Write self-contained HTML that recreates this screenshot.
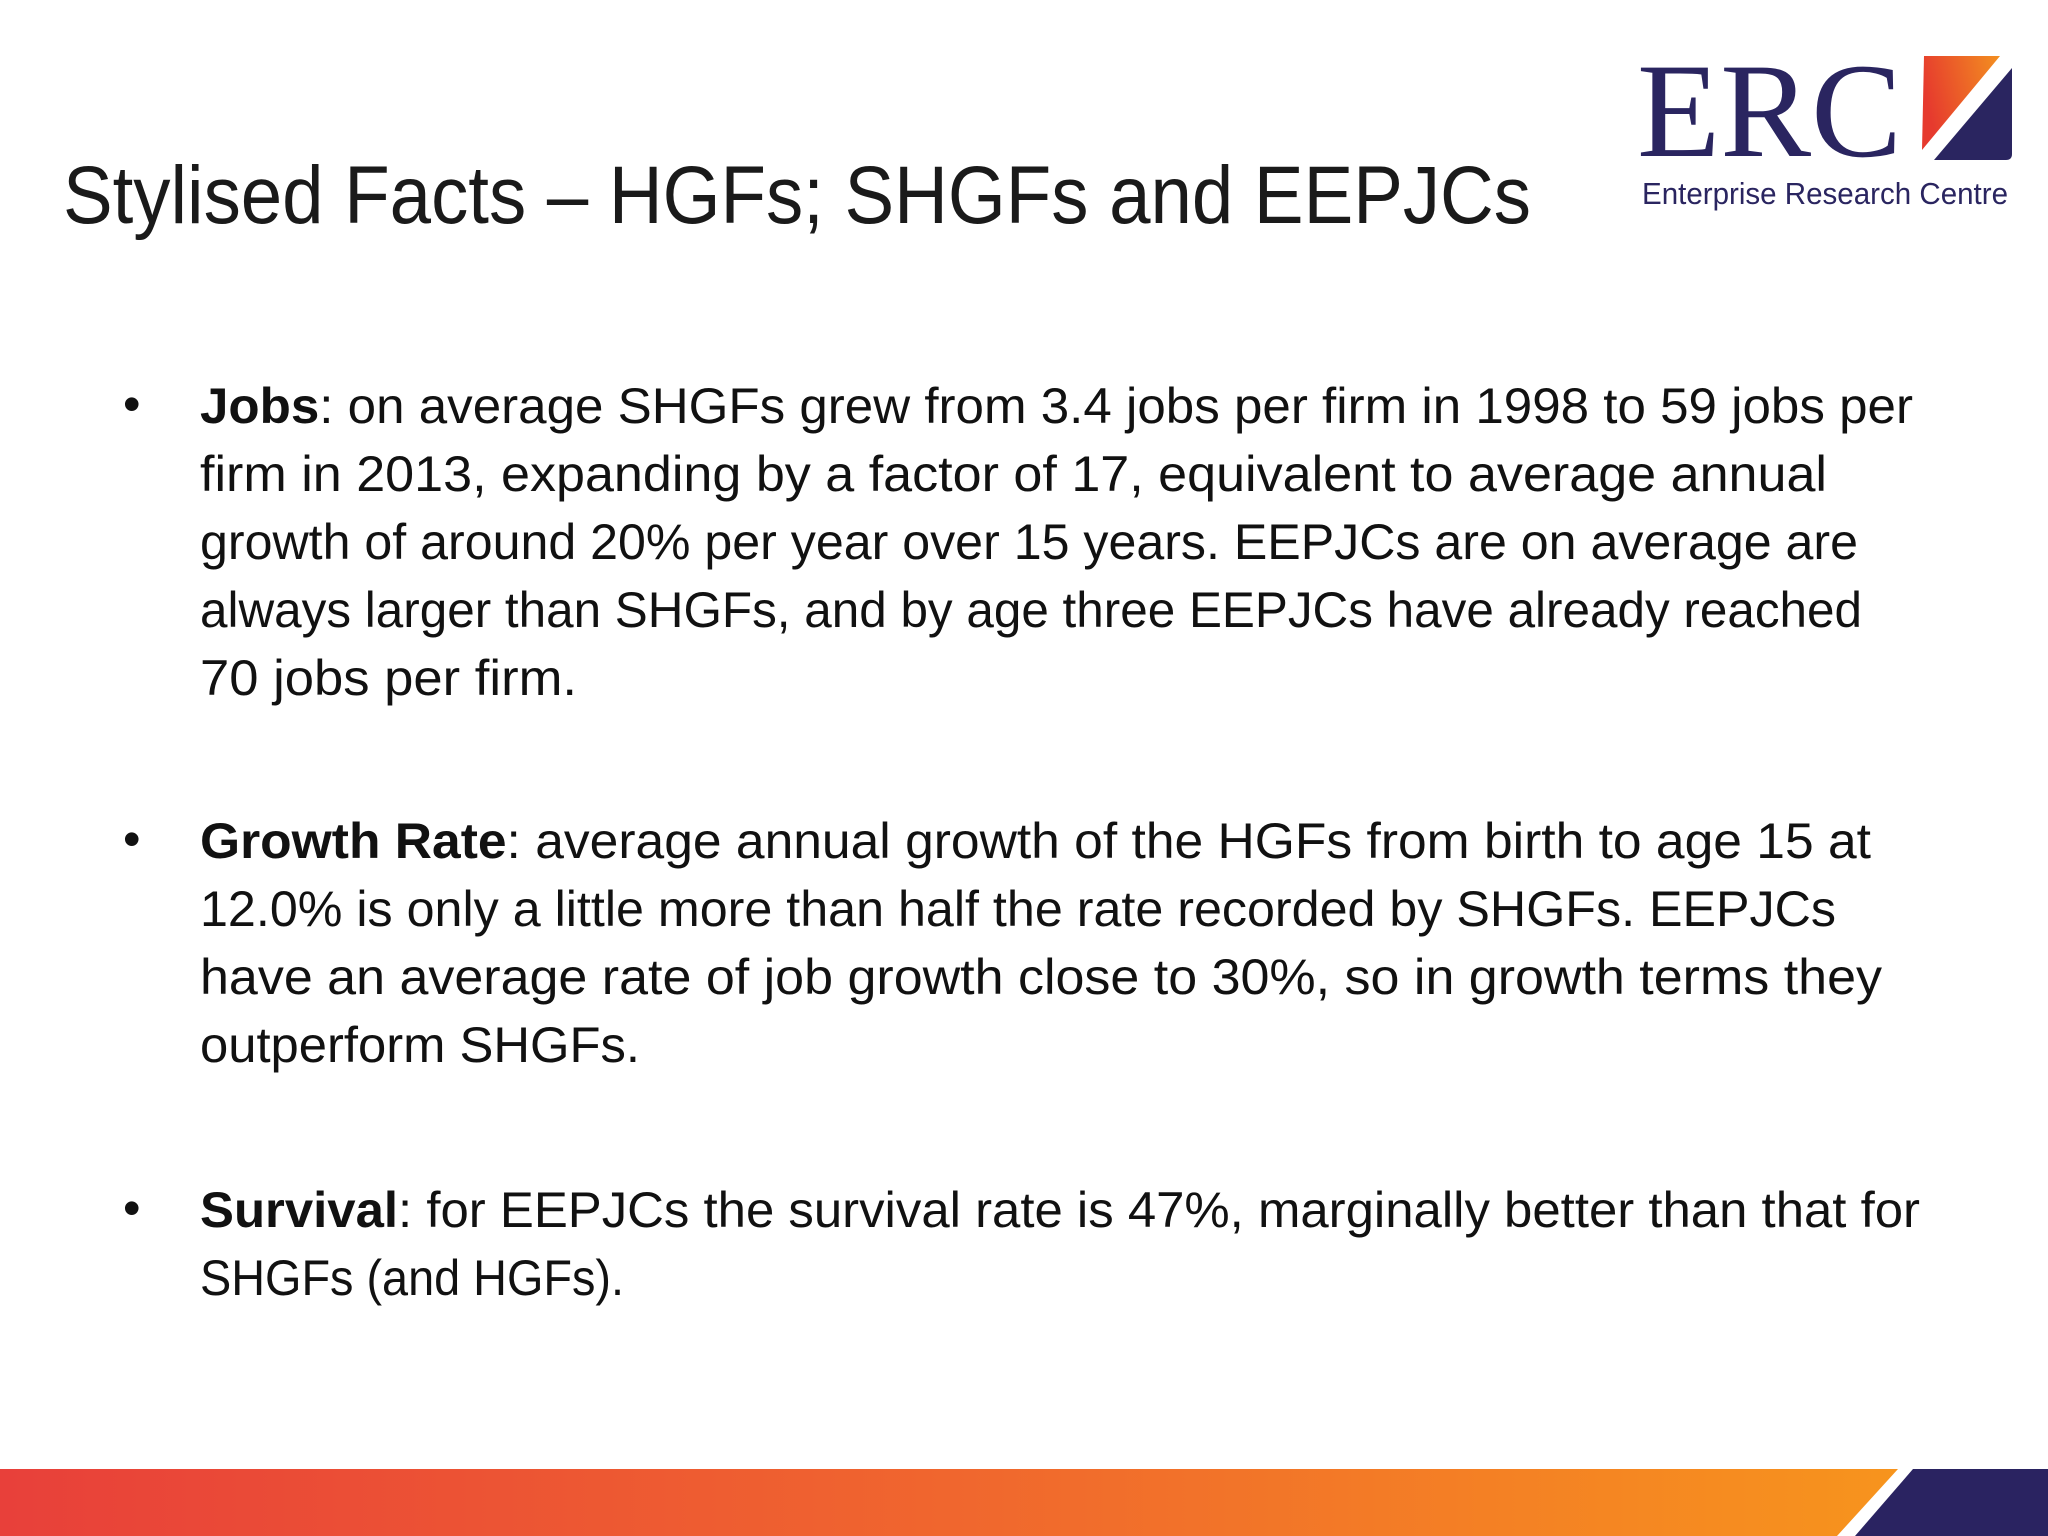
<!DOCTYPE html>
<html><head><meta charset="utf-8"><style>
html,body{margin:0;padding:0;background:#fff;}
svg{display:block;}
text{font-family:"Liberation Sans",sans-serif;fill:#111;}
</style></head><body>
<svg width="2048" height="1536" viewBox="0 0 2048 1536">
<defs>
<linearGradient id="bar" x1="0" x2="1" y1="0" y2="0">
<stop offset="0" stop-color="#e8403a"/><stop offset="0.5" stop-color="#f0662e"/><stop offset="1" stop-color="#f7941d"/>
</linearGradient>
<linearGradient id="sq" x1="0" x2="1" y1="0.3" y2="0">
<stop offset="0" stop-color="#e63a2e"/><stop offset="1" stop-color="#f39020"/>
</linearGradient>
</defs>
<g>
<text x="1637" y="156" font-size="135" style="fill:#2a2560;font-family:'Liberation Serif',serif" textLength="265" lengthAdjust="spacingAndGlyphs">ERC</text>
<path d="M1924 56 L2000 56 L1922 150 Z" fill="url(#sq)"/>
<path d="M2012 68 L2012 154 Q2012 160 2006 160 L1934 160 Z" fill="#2a2560"/>
<text x="1642" y="204" font-size="31" style="fill:#2a2560" textLength="366" lengthAdjust="spacingAndGlyphs">Enterprise Research Centre</text>
</g>
<text x="63" y="223" font-size="82" style="fill:#1a1a1a" textLength="1468" lengthAdjust="spacingAndGlyphs">Stylised Facts – HGFs; SHGFs and EEPJCs</text>
<g font-size="50">
<text x="123" y="421">•</text>
<text x="200" y="423" textLength="1713" lengthAdjust="spacingAndGlyphs"><tspan font-weight="bold">Jobs</tspan>:  on average SHGFs grew from 3.4 jobs per firm in 1998 to 59 jobs per</text>
<text x="200" y="491" textLength="1627" lengthAdjust="spacingAndGlyphs">firm in 2013, expanding by a factor of 17, equivalent to average annual</text>
<text x="200" y="559" textLength="1658" lengthAdjust="spacingAndGlyphs">growth of around 20% per year over 15 years. EEPJCs are on average are</text>
<text x="200" y="627" textLength="1662" lengthAdjust="spacingAndGlyphs">always larger than SHGFs, and by age three EEPJCs have already reached</text>
<text x="200" y="695" textLength="377" lengthAdjust="spacingAndGlyphs">70 jobs per firm.</text>
<text x="123" y="856">•</text>
<text x="200" y="858" textLength="1671" lengthAdjust="spacingAndGlyphs"><tspan font-weight="bold">Growth Rate</tspan>: average annual growth of the HGFs from birth to age 15 at</text>
<text x="200" y="926" textLength="1636" lengthAdjust="spacingAndGlyphs">12.0% is only a little more than half the rate recorded by SHGFs. EEPJCs</text>
<text x="200" y="994" textLength="1682" lengthAdjust="spacingAndGlyphs">have an average rate of job growth close to 30%, so in growth terms they</text>
<text x="200" y="1062" textLength="440" lengthAdjust="spacingAndGlyphs">outperform SHGFs.</text>
<text x="123" y="1225">•</text>
<text x="200" y="1227" textLength="1720" lengthAdjust="spacingAndGlyphs"><tspan font-weight="bold">Survival</tspan>: for EEPJCs the survival rate is 47%, marginally better than that for</text>
<text x="200" y="1295" textLength="424" lengthAdjust="spacingAndGlyphs">SHGFs (and HGFs).</text>
</g>
<polygon points="0,1469 1898,1469 1837,1536 0,1536" fill="url(#bar)"/>
<polygon points="1913,1469 2048,1469 2048,1536 1855,1536" fill="#2a2361"/>
</svg>
</body></html>
